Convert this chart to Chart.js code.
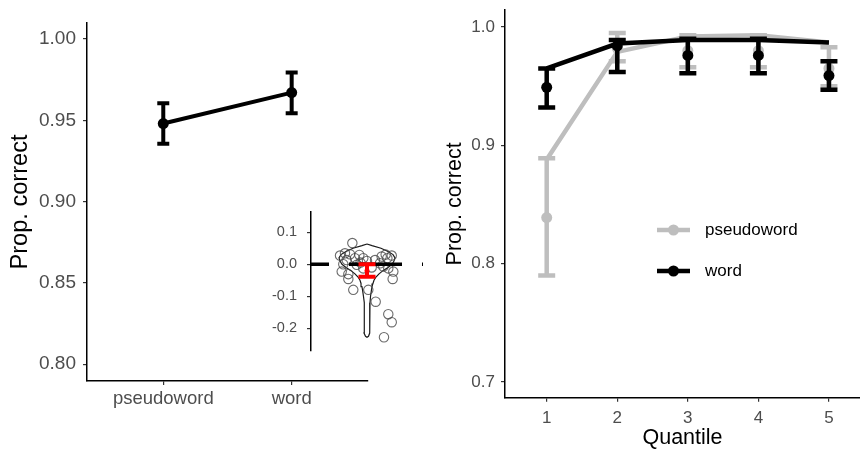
<!DOCTYPE html>
<html>
<head>
<meta charset="utf-8">
<script src="https://cdn.jsdelivr.net/npm/chart.js@4.4.0/dist/chart.umd.min.js"></script>
<style>
  html, body { margin: 0; padding: 0; background: #fff; overflow: hidden; }
  #wrap { position: relative; width: 860px; height: 449px; overflow: hidden; }
  canvas { position: absolute; }
</style>
</head>
<body>
<div id="wrap">
  <canvas id="left" width="430" height="449" style="left:0px;top:0px"></canvas>
  <canvas id="inset" width="180" height="160" style="left:250px;top:200px"></canvas>
  <canvas id="right" width="430" height="460" style="left:430px;top:0px"></canvas>
</div>
<script>
// overall accuracy per lexicality
const lexCategories = ['pseudoword', 'word'];
const lexMean = [0.948, 0.967];
const lexLow = [0.9355, 0.9543];
const lexHigh = [0.9605, 0.9793];
const leftTicks = [0.80, 0.85, 0.90, 0.95, 1.00];

// inset: per participant difference (word - pseudoword)
const diffTicks = [-0.2, -0.1, 0.0, 0.1];
const diffX = [0.843, 0.711, 0.764, 0.818, 0.871, 0.918, 0.960, 1.086, 1.157, 1.218, 1.265, 0.746, 0.729, 0.800,
               0.853, 1.014, 1.093, 1.282, 1.275, 1.228, 1.265, 1.182, 0.890, 0.960, 1.175, 1.228, 0.782, 1.139,
               0.800, 1.000, 1.050, 0.930, 1.200];
const diffY = [0.066, 0.027, 0.034, 0.031, 0.019, 0.029, 0.019, 0.013, 0.024, 0.019, 0.027, 0.000, -0.023, -0.031,
               -0.080, -0.080, -0.117, -0.023, -0.046, -0.156, -0.181, -0.228, -0.002, -0.013, -0.007, -0.013, 0.013, 0.003,
               -0.046, 0.010, -0.010, 0.005, 0.030];
const violinY = [0.063, 0.058, 0.050, 0.040, 0.030, 0.020, 0.010, 0.000, -0.010, -0.020, -0.030, -0.040, -0.050,
                 -0.060, -0.070, -0.080, -0.100, -0.120, -0.140, -0.160, -0.180, -0.200, -0.215, -0.225, -0.228];
const violinHalf = [0, 0.054, 0.150, 0.225, 0.279, 0.300, 0.289, 0.268, 0.225, 0.171, 0.129, 0.096, 0.075,
                    0.064, 0.054, 0.048, 0.038, 0.032, 0.027, 0.027, 0.027, 0.032, 0.032, 0.016, 0];
const diffMean = [-0.02];
const diffLow = [-0.039];
const diffHigh = [0.0];

// accuracy per RT quantile
const quantiles = [1, 2, 3, 4, 5];
const pseudoMean = [0.839, 0.982, 0.980, 0.980, 0.965];
const pseudoLow = [0.790, 0.971, 0.966, 0.966, 0.950];
const pseudoHigh = [0.889, 0.995, 0.993, 0.993, 0.983];
const pseudoLine = [0.888, 0.979, 0.992, 0.993, 0.987];
const wordMean = [0.949, 0.984, 0.976, 0.976, 0.959];
const wordLow = [0.932, 0.962, 0.961, 0.961, 0.947];
const wordHigh = [0.965, 0.989, 0.990, 0.990, 0.971];
const wordLine = [0.965, 0.986, 0.989, 0.989, 0.987];
const rightTicks = [0.7, 0.8, 0.9, 1.0];

const FONT = "'Liberation Sans', Arial, sans-serif";
const GREY = '#BEBEBE';
const TICKCOL = '#4D4D4D';
Chart.defaults.font.family = FONT;
Chart.defaults.animation = false;

// error bars drawn under each dataset's points
const errorBars = {
  id: 'errorBars',
  beforeDatasetDraw(chart, args) {
    const ds = chart.data.datasets[args.index];
    if (!ds.errLow) return;
    const ctx = chart.ctx;
    const x = chart.scales.x, y = chart.scales.y;
    ctx.save();
    ctx.strokeStyle = ds.borderColor;
    ctx.lineWidth = ds.errWidth;
    ds.data.forEach((p, i) => {
      const px = x.getPixelForValue(p.x);
      const lo = y.getPixelForValue(ds.errLow[i]);
      const hi = y.getPixelForValue(ds.errHigh[i]);
      const hw = ds.capWidth / 2;
      ctx.beginPath();
      ctx.moveTo(px, lo); ctx.lineTo(px, hi);
      ctx.moveTo(px - hw, lo); ctx.lineTo(px + hw, lo);
      ctx.moveTo(px - hw, hi); ctx.lineTo(px + hw, hi);
      ctx.stroke();
    });
    ctx.restore();
  }
};

const insideLegend = {
  id: 'insideLegend',
  afterDraw(chart, args, o) {
    if (!o || !o.display) return;
    const ctx = chart.ctx;
    chart.data.datasets.filter(d => d.legendKey).forEach((d, i) => {
      const y = o.y + i * o.rowGap;
      ctx.save();
      ctx.strokeStyle = d.borderColor;
      ctx.lineWidth = o.lineWidth;
      ctx.beginPath();
      ctx.moveTo(o.x, y); ctx.lineTo(o.x + o.keyWidth, y);
      ctx.stroke();
      ctx.fillStyle = d.borderColor;
      ctx.beginPath();
      ctx.arc(o.x + o.keyWidth / 2, y, o.pointRadius, 0, Math.PI * 2);
      ctx.fill();
      ctx.fillStyle = '#000';
      ctx.font = o.fontSize + 'px ' + FONT;
      ctx.textBaseline = 'middle';
      ctx.fillText(d.label, o.x + o.keyWidth + o.textGap, y);
      ctx.restore();
    });
  }
};

function setTicks(values) {
  return scale => { scale.ticks = values.map(v => ({ value: v })); };
}
// pin the axis size and drop the label overhang padding so the plot area lands where we want
function fixY(w) {
  return s => { s.width = w; s.paddingTop = 0; s.paddingBottom = 0; };
}
function fixX(h) {
  return s => { s.height = h; s.paddingLeft = 0; s.paddingRight = 0; };
}

const axisGrid = { display: true, drawOnChartArea: false, drawTicks: true, tickLength: 4, color: '#333', lineWidth: 1.2 };
const axisBorder = { display: true, color: '#000', width: 1.5 };

// ---------- left panel ----------
new Chart(document.getElementById('left'), {
  type: 'line',
  data: {
    datasets: [{
      label: 'mean',
      data: lexMean.map((v, i) => ({ x: i + 1, y: v })),
      borderColor: '#000',
      backgroundColor: '#000',
      borderWidth: 4,
      pointRadius: 5.5,
      pointBorderWidth: 0,
      errLow: lexLow, errHigh: lexHigh, errWidth: 4, capWidth: 12
    }]
  },
  options: {
    responsive: false,
    layout: { autoPadding: false, padding: { left: 0, top: 23, right: 62.3, bottom: 0 } },
    plugins: { legend: { display: false }, tooltip: { enabled: false } },
    scales: {
      x: {
        type: 'linear', min: 0.406, max: 2.592,
        afterBuildTicks: setTicks([1, 2]),
        afterFit: fixX(68),
        grid: axisGrid, border: axisBorder,
        ticks: { color: TICKCOL, font: { size: 18.5 }, padding: 3, callback: v => lexCategories[v - 1] }
      },
      y: {
        min: 0.7897, max: 1.0098,
        afterBuildTicks: setTicks(leftTicks),
        afterFit: fixY(87),
        grid: axisGrid, border: axisBorder,
        ticks: { color: TICKCOL, font: { size: 19 }, padding: 7, callback: v => v.toFixed(2) },
        title: { display: true, text: 'Prop. correct', color: '#000', font: { size: 23.6 }, padding: { top: 6.6, bottom: 0 } }
      }
    }
  },
  plugins: [errorBars]
});

// ---------- inset ----------
const violinOutline = violinY.map((v, i) => ({ x: 1 + violinHalf[i], y: v }))
  .concat(violinY.map((v, i) => ({ x: 1 - violinHalf[i], y: v })).reverse());

new Chart(document.getElementById('inset'), {
  type: 'line',
  data: {
    datasets: [{
      label: 'violin',
      data: violinOutline,
      borderColor: '#1a1a1a', borderWidth: 1.2, pointRadius: 0, fill: false, tension: 0,
      order: 4
    }, {
      label: 'participants',
      data: diffX.map((x, i) => ({ x: x, y: diffY[i] })),
      showLine: false,
      pointRadius: 4.7, pointBorderWidth: 1.1,
      pointBorderColor: 'rgba(70,70,70,0.8)', pointBackgroundColor: 'rgba(0,0,0,0)',
      order: 3
    }, {
      label: 'zero',
      data: [{ x: 0.4, y: 0 }, { x: 1.6, y: 0 }],
      borderColor: '#000', borderWidth: 3.5, borderDash: [53, 20], borderDashOffset: 35,
      pointRadius: 0, order: 2
    }, {
      label: 'mean diff',
      data: diffMean.map(v => ({ x: 1, y: v })),
      showLine: false,
      borderColor: '#FF0000', backgroundColor: '#FF0000',
      pointRadius: 2.5, pointBorderWidth: 0,
      errLow: diffLow, errHigh: diffHigh, errWidth: 4, capWidth: 17,
      order: 1
    }]
  },
  options: {
    responsive: false,
    layout: { autoPadding: false, padding: { left: 0, top: 11.7, right: 7, bottom: 9.3 } },
    plugins: { legend: { display: false }, tooltip: { enabled: false } },
    scales: {
      x: { type: 'linear', min: 0.4, max: 1.6, display: false },
      y: {
        min: -0.27, max: 0.164,
        afterBuildTicks: setTicks(diffTicks),
        afterFit: fixY(61),
        grid: axisGrid, border: axisBorder,
        ticks: { color: TICKCOL, font: { size: 14.5 }, padding: 10, callback: v => v.toFixed(1) }
      }
    }
  },
  plugins: [errorBars]
});

// ---------- right panel ----------
new Chart(document.getElementById('right'), {
  type: 'line',
  data: {
    datasets: [{
      label: 'pseudoword',
      legendKey: true,
      data: quantiles.map((q, i) => ({ x: q, y: pseudoLine[i] })),
      borderColor: GREY, borderWidth: 4.5, pointRadius: 0, order: 4
    }, {
      label: 'pseudoword means',
      data: quantiles.map((q, i) => ({ x: q, y: pseudoMean[i] })),
      showLine: false,
      borderColor: GREY, backgroundColor: GREY, pointRadius: 5.5, pointBorderWidth: 0,
      errLow: pseudoLow, errHigh: pseudoHigh, errWidth: 4.5, capWidth: 17,
      order: 3
    }, {
      label: 'word',
      legendKey: true,
      data: quantiles.map((q, i) => ({ x: q, y: wordLine[i] })),
      borderColor: '#000', borderWidth: 4.5, pointRadius: 0, order: 2
    }, {
      label: 'word means',
      data: quantiles.map((q, i) => ({ x: q, y: wordMean[i] })),
      showLine: false,
      borderColor: '#000', backgroundColor: '#000', pointRadius: 5.5, pointBorderWidth: 0,
      errLow: wordLow, errHigh: wordHigh, errWidth: 4.5, capWidth: 17,
      order: 1
    }]
  },
  options: {
    responsive: false,
    layout: { autoPadding: false, padding: { left: 0, top: 10, right: 0, bottom: 0 } },
    plugins: {
      legend: { display: false }, tooltip: { enabled: false },
      insideLegend: { display: true, x: 227, y: 230, rowGap: 41, keyWidth: 33, lineWidth: 4.5, pointRadius: 5.5, textGap: 15, fontSize: 17 }
    },
    scales: {
      x: {
        type: 'linear', min: 0.409, max: 5.44,
        afterBuildTicks: setTicks(quantiles),
        afterFit: fixX(62.3),
        grid: axisGrid, border: axisBorder,
        ticks: { color: TICKCOL, font: { size: 17 }, padding: 6, callback: v => String(v) },
        title: { display: true, text: 'Quantile', color: '#000', font: { size: 21.5 }, padding: { top: 0, bottom: 9 } }
      },
      y: {
        min: 0.6867, max: 1.0144,
        afterBuildTicks: setTicks(rightTicks),
        afterFit: fixY(75),
        grid: axisGrid, border: axisBorder,
        ticks: { color: TICKCOL, font: { size: 17 }, padding: 6, callback: v => v.toFixed(1) },
        title: { display: true, text: 'Prop. correct', color: '#000', font: { size: 21.5 }, padding: { top: 12, bottom: 0 } }
      }
    }
  },
  plugins: [errorBars, insideLegend]
});
</script>
</body>
</html>
